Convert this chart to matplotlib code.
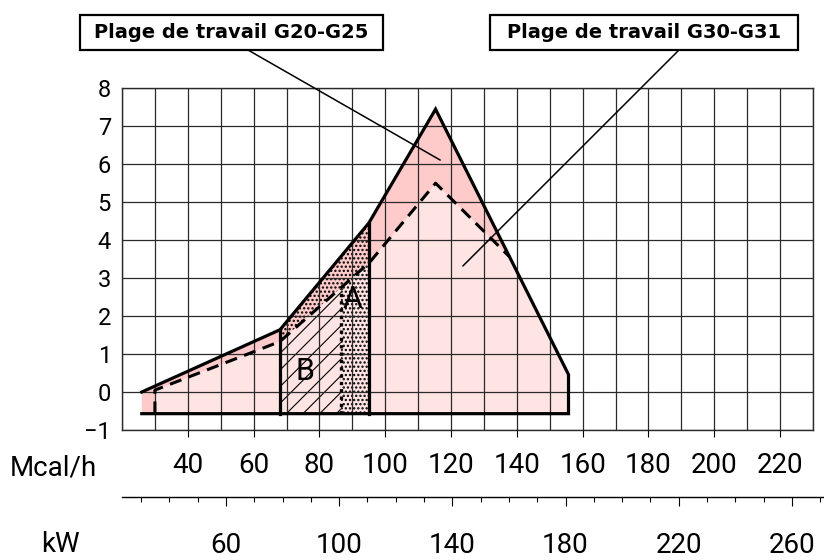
import matplotlib
matplotlib.use("Agg")
import matplotlib.pyplot as plt
import numpy as np
from matplotlib.patches import Rectangle

# -------------------------------------------------
# Data (Mcal/h on x, pressure-ish value on y)
# -------------------------------------------------
# G20-G25 working range (solid outline)
g20_x = [26, 68, 95, 115.3, 155.7, 155.7, 26]
g20_y = [0, 1.64, 4.45, 7.45, 0.46, -0.57, -0.57]

# G30-G31 working range (dashed outline, closed along the solid edge)
g30_x = [30, 30, 68, 95.2, 115.3, 137.8, 155.7, 155.7]
g30_y = [-0.57, 0.05, 1.33, 3.41, 5.5, 3.56, 0.46, -0.57]
g30_line_n = 6  # dashed part = first 6 points

# zone A (dotted) and zone B (hatched)
zone_a_x = [68, 95, 95, 86.5, 86.5, 68]
zone_a_y = [1.64, 4.45, -0.57, -0.57, 2.75, 1.33]
zone_b_x = [68, 86.5, 86.5, 68]
zone_b_y = [-0.57, -0.57, 2.75, 1.33]

# separators between zones
sep_x = [68, 86.5, 95]
sep_top = [1.64, 2.75, 4.45]
bottom_y = -0.57

# axes
mcal_ticks = [40, 60, 80, 100, 120, 140, 160, 180, 200, 220]
kw_ticks = [60, 100, 140, 180, 220, 260]
kw_minor = [30, 40, 50, 70, 80, 90, 110, 120, 130, 150, 160, 170,
            190, 200, 210, 230, 240, 250, 270]
y_ticks = [-1, 0, 1, 2, 3, 4, 5, 6, 7, 8]
kw_per_mcal = 1 / 0.86

# -------------------------------------------------
# Style
# -------------------------------------------------
plt.rcParams['font.family'] = ['Roboto', 'DejaVu Sans']
plt.rcParams['hatch.linewidth'] = 0.8

W, H = 824, 560
fig = plt.figure(figsize=(W / 100, H / 100), dpi=100)

ax = fig.add_axes([122 / W, 1 - 430 / H, 691 / W, 341.7 / H])
ax.set_xlim(20, 230)
ax.set_ylim(-1, 8)

# fills
ax.fill(g20_x, g20_y, color='#ffcaca', lw=0, zorder=1)
ax.fill(g30_x, g30_y, color='#ffe4e4', lw=0, zorder=1.1)
ax.fill(zone_b_x, zone_b_y, facecolor='none', edgecolor='black', hatch='//', lw=0, zorder=1.2)
dots = ax.fill(zone_a_x, zone_a_y, facecolor='none', edgecolor='black', hatch='....',
               lw=0, zorder=1.2)
for p in dots:
    try:
        p.set_hatch_linewidth(1.1)
    except AttributeError:
        pass

# outlines
ax.plot(g20_x, g20_y, color='black', lw=2.3, solid_joinstyle='miter', zorder=4)
ax.plot(g30_x[:g30_line_n], g30_y[:g30_line_n], color='black', lw=2.2,
        linestyle=(0, (4, 2.5)), zorder=4)
ax.plot([sep_x[0], sep_x[0]], [bottom_y, sep_top[0]], color='black', lw=2.3, zorder=4)
ax.plot([sep_x[2], sep_x[2]], [bottom_y, sep_top[2]], color='black', lw=2.3, zorder=4)
ax.plot([sep_x[1], sep_x[1]], [bottom_y, sep_top[1]], color='black', lw=2.4,
        linestyle=(0, (1, 1.2)), zorder=4)

ax.text(90.2, 2.43, 'A', fontsize=22, ha='center', va='center', zorder=5)
ax.text(75.6, 0.54, 'B', fontsize=22, ha='center', va='center', zorder=5)

# grid
ax.set_xticks(mcal_ticks)
ax.set_xticks(np.arange(20, 231, 10), minor=True)
ax.set_yticks(y_ticks)
ax.set_yticklabels([str(v).replace('-', '\u2212') for v in y_ticks])
ax.grid(which='both', color='#2a2a2a', lw=0.9, zorder=2)
ax.set_axisbelow(False)
for s in ax.spines.values():
    s.set_linewidth(1.0)
    s.set_color('#2a2a2a')
ax.tick_params(axis='x', which='major', direction='out', length=5, width=0.8,
               labelsize=20, pad=11)
ax.tick_params(axis='x', which='minor', length=0)
ax.tick_params(axis='y', length=0, labelsize=17, pad=8)

# kW axis
kw_ax = fig.add_axes([122 / W, 1 - 497.3 / H, (W - 122) / W, 0.0001])
mcal_right = 20 + (W - 122) / (691 / 210)
kw_ax.set_xlim(20 * kw_per_mcal, mcal_right * kw_per_mcal)
kw_ax.set_ylim(0, 1)
kw_ax.patch.set_visible(False)
for side in ['left', 'right', 'top']:
    kw_ax.spines[side].set_visible(False)
kw_ax.spines['bottom'].set_linewidth(1.0)
kw_ax.set_yticks([])
kw_ax.set_xticks(kw_ticks)
kw_ax.set_xticks(kw_minor, minor=True)
kw_ax.tick_params(axis='x', which='major', direction='out', length=6.3, width=0.8,
                  labelsize=20, pad=19)
kw_ax.tick_params(axis='x', which='minor', direction='out', length=3.4, width=0.8)

fig.text(10 / W, 1 - 468 / H, 'Mcal/h', fontsize=20, ha='left', va='center')
fig.text(60 / W, 1 - 545 / H, 'kW', fontsize=20, ha='center', va='center')

# label boxes with leader lines
boxes = [((80, 15, 303, 35), 'Plage de travail G20-G25', (248, 50), (116.7, 6.11)),
         ((490, 15, 308, 35), 'Plage de travail G30-G31', (679, 50), (123.6, 3.32))]
for (bx, by, bw, bh), label, start, end in boxes:
    fig.add_artist(Rectangle((bx / W, 1 - (by + bh) / H), bw / W, bh / H,
                             transform=fig.transFigure, fill=False, lw=1.6,
                             edgecolor='black'))
    fig.text((bx + bw / 2) / W, 1 - (by + bh / 2) / H, label, family='DejaVu Sans',
             fontweight='bold', fontsize=14, ha='center', va='center')
    ax.annotate('', xy=end, xycoords='data',
                xytext=(start[0] / W, 1 - start[1] / H), textcoords='figure fraction',
                arrowprops=dict(arrowstyle='-', lw=1.1, color='black',
                                shrinkA=0, shrinkB=0),
                annotation_clip=False, zorder=6)

fig.savefig('out.png', dpi=100)
